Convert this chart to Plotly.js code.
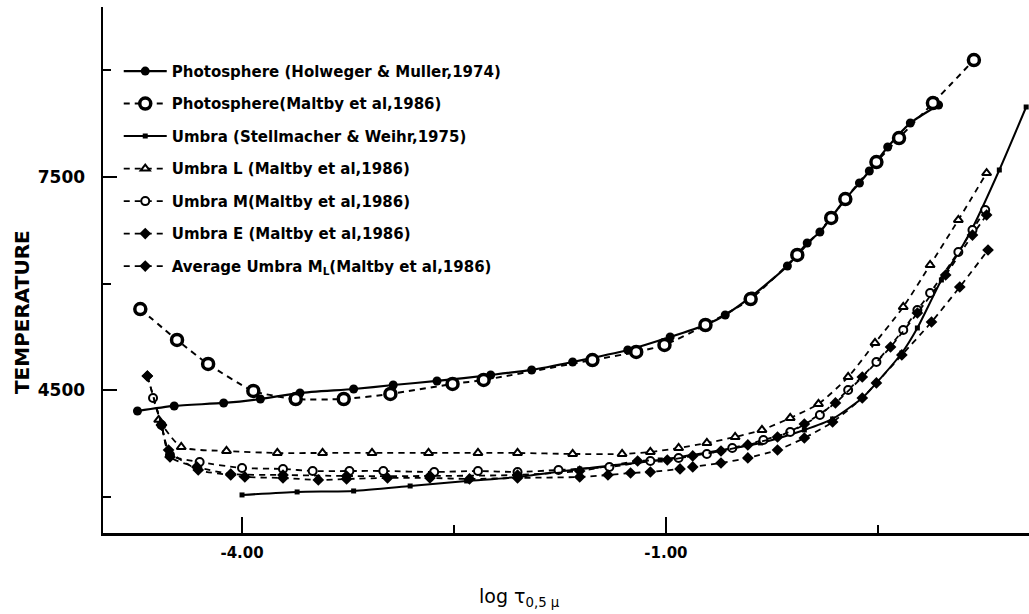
<!DOCTYPE html>
<html><head><meta charset="utf-8">
<script src="https://cdn.plot.ly/plotly-3.0.1.min.js"></script>
<style>html,body{margin:0;padding:0;background:#fff}</style>
</head><body><div id="chart" style="width:1029px;height:614px"></div>
<script>
// log tau (x) and temperature (y) values
const photoHM_x = [-4.74,-4.48,-4.13,-3.87,-3.59,-3.21,-2.93,-2.62,-2.24,-1.95,-1.66,-1.27,-0.97,-0.72,-0.58,-0.39,-0.14,0.00,0.09,0.27,0.37,0.44,0.57,0.73,0.93];
const photoHM_T = [4205,4276,4318,4374,4459,4515,4571,4628,4712,4783,4895,5064,5247,5416,5557,5825,6247,6571,6726,7190,7416,7584,7922,8260,8514];

const photoM_x = [-4.72,-4.46,-4.24,-3.92,-3.62,-3.28,-2.95,-2.51,-2.29,-1.52,-1.21,-1.01,-0.72,-0.40,-0.07,0.17,0.27,0.49,0.65,0.89,1.18];
const photoM_T = [5641,5205,4867,4487,4374,4374,4445,4586,4642,4923,5036,5135,5416,5782,6402,6923,7190,7711,8049,8542,9147];

const umbraSW_x = [-4.00,-3.61,-3.21,-2.81,-2.41,-2.05,-1.61,-1.04,-0.33,-0.02,0.18,0.39,0.49,0.67,0.78,0.95,1.07,1.17,1.36,1.55];
const umbraSW_T = [3023,3065,3079,3149,3220,3276,3389,3515,3755,3938,4093,4388,4600,5022,5374,6050,6430,6782,7599,8486];

const umbraL_x = [-4.59,-4.43,-4.11,-3.75,-3.43,-3.08,-2.68,-2.33,-2.05,-1.66,-1.31,-1.11,-0.91,-0.71,-0.51,-0.32,-0.12,0.08,0.29,0.48,0.68,0.87,1.07,1.27];
const umbraL_T = [4080,3698,3642,3614,3614,3614,3614,3614,3614,3600,3600,3628,3684,3755,3839,3938,4107,4304,4684,5163,5670,6261,6895,7556];

const umbraM_x = [-4.63,-4.57,-4.51,-4.30,-4.00,-3.71,-3.50,-3.24,-3.00,-2.64,-2.33,-2.05,-1.76,-1.40,-1.11,-0.91,-0.71,-0.53,-0.31,-0.12,0.09,0.29,0.49,0.68,0.78,0.87,1.07,1.17,1.26];
const umbraM_T = [4388,4008,3586,3487,3403,3389,3360,3360,3360,3346,3360,3346,3375,3417,3501,3544,3600,3684,3797,3910,4149,4501,4895,5346,5627,5867,6444,6754,7035];

const umbraE_x = [-4.67,-4.57,-4.52,-4.31,-4.08,-3.98,-3.71,-3.46,-3.26,-2.97,-2.67,-2.39,-2.05,-1.61,-1.41,-1.25,-1.11,-0.90,-0.81,-0.61,-0.42,-0.21,-0.02,0.18,0.39,0.49,0.67,0.88,1.08,1.28];
const umbraE_T = [4698,4008,3656,3375,3304,3276,3262,3234,3248,3262,3262,3248,3262,3276,3304,3332,3346,3389,3417,3473,3544,3656,3825,4050,4388,4600,4994,5458,5951,6472];

const avgML_x = [-4.67,-4.57,-4.51,-4.32,-4.08,-3.71,-3.26,-2.67,-2.05,-1.61,-1.20,-0.99,-0.81,-0.61,-0.42,-0.21,-0.02,0.20,0.39,0.59,0.78,0.98,1.17,1.27];
const avgML_T = [4698,4008,3558,3417,3318,3304,3290,3290,3304,3360,3501,3515,3572,3642,3727,3839,4022,4318,4684,5106,5585,6120,6683,6965];

const seriesNames = [
  "Photosphere (Holweger & Muller,1974)",
  "Photosphere(Maltby et al,1986)",
  "Umbra (Stellmacher & Weihr,1975)",
  "Umbra L (Maltby et al,1986)",
  "Umbra M(Maltby et al,1986)",
  "Umbra E (Maltby et al,1986)",
  "Average Umbra M<sub>L</sub>(Maltby et al,1986)"
];
const xTickVals = [-4, -1];
const xTickText = ["-4.00", "-1.00"];
const xMinorVals = [-2.5, 0.5];
const yTickVals = [4500, 7500];
const yTickText = ["4500", "7500"];
const yMinorVals = [3000, 6000, 9000];

const K = 'black';
const FONT = 'DejaVu Sans, Liberation Sans, sans-serif';
const dash = '6px,5px';
function tr(x, y, i, dashed, marker, lw) {
  return {
    x: x, y: y, name: seriesNames[i], type: 'scatter', mode: 'lines+markers',
    legendgroup: 'g' + i,
    line: {color: K, width: lw, dash: dashed ? dash : 'solid', shape: 'spline', smoothing: 0.6},
    marker: marker, hoverinfo: 'skip'
  };
}
const traces = [
  tr(photoHM_x, photoHM_T, 0, false, {symbol: 'circle', size: 9, color: K}, 2.2),
  tr(photoM_x, photoM_T, 1, true, {symbol: 'circle', size: 11, color: 'white', line: {color: K, width: 3.5}}, 2),
  tr(umbraSW_x, umbraSW_T, 2, false, {symbol: 'square', size: 5, color: K}, 2),
  tr(umbraL_x, umbraL_T, 3, true, {symbol: 'triangle-up', size: 8, color: 'white', line: {color: K, width: 2}}, 1.8),
  tr(umbraM_x, umbraM_T, 4, true, {symbol: 'circle', size: 8, color: 'white', line: {color: K, width: 2}}, 1.8),
  tr(umbraE_x, umbraE_T, 5, true, {symbol: 'diamond', size: 9, color: K}, 1.8),
  tr(avgML_x, avgML_T, 6, true, {symbol: 'diamond', size: 9, color: K}, 1.8)
];

const layout = {
  width: 1029, height: 614,
  margin: {l: 103, r: 0, t: 7, b: 81},
  paper_bgcolor: 'white', plot_bgcolor: 'white',
  font: {family: FONT, color: K},
  showlegend: true,
  legend: {
    x: 0.017, y: 0.909, xanchor: 'left', yanchor: 'top',
    bgcolor: 'rgba(0,0,0,0)', borderwidth: 0,
    itemwidth: 43, tracegroupgap: 10, traceorder: 'grouped',
    font: {family: FONT, size: 15, weight: 'bold', color: K}
  },
  xaxis: {
    range: [-4.984, 1.570], showgrid: false, zeroline: false,
    showline: true, linecolor: K, linewidth: 2.5,
    tickmode: 'array', tickvals: xTickVals, ticktext: xTickText,
    ticks: 'inside', ticklen: 16, tickwidth: 2, tickcolor: K,
    ticklabelstandoff: 4,
    tickfont: {family: FONT, size: 15, weight: 'bold', color: K},
    minor: {tickmode: 'array', tickvals: xMinorVals, ticks: 'inside', ticklen: 8, tickwidth: 2, tickcolor: K, showgrid: false}
  },
  yaxis: {
    range: [2487, 9894], showgrid: false, zeroline: false,
    showline: true, linecolor: K, linewidth: 2.5,
    tickmode: 'array', tickvals: yTickVals, ticktext: yTickText,
    ticks: 'inside', ticklen: 14, tickwidth: 2, tickcolor: K,
    ticklabelstandoff: 12,
    tickfont: {family: FONT, size: 17, weight: 'bold', color: K},
    minor: {tickmode: 'array', tickvals: yMinorVals, ticks: 'inside', ticklen: 8, tickwidth: 2, tickcolor: K, showgrid: false}
  },
  annotations: [
    {text: 'log τ<sub>0,5 μ</sub>', xref: 'paper', yref: 'paper', x: 0.45, y: -0.122,
     xanchor: 'center', yanchor: 'middle', showarrow: false,
     font: {family: FONT, size: 19, color: K}},
    {text: 'TEMPERATURE', xref: 'paper', yref: 'paper', x: -0.0875, y: 0.42,
     xanchor: 'center', yanchor: 'middle', showarrow: false, textangle: -90,
     font: {family: FONT, size: 20, weight: 'bold', color: K}}
  ]
};

Plotly.newPlot('chart', traces, layout, {displayModeBar: false, staticPlot: true});
</script>
</body></html>
